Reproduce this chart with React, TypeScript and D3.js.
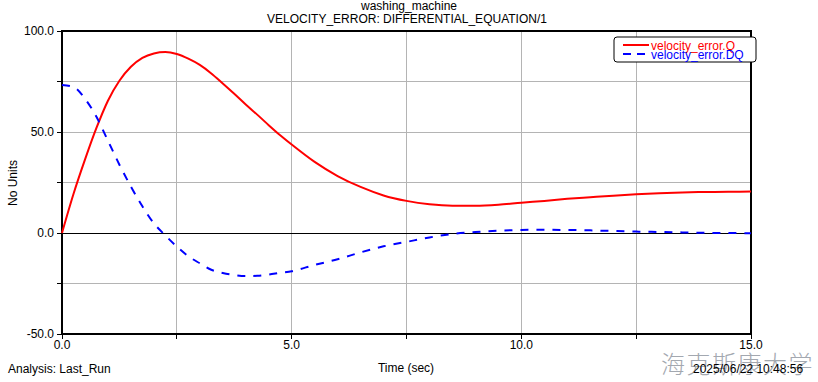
import React from "react";
import * as d3 from "d3";

const TIME = [
  0, 0.25, 0.5, 0.75, 1.0, 1.25, 1.5, 1.75, 2.0, 2.25, 2.5, 2.75, 3.0, 3.25, 3.5, 3.75, 4.0, 4.25, 4.5, 4.75, 5.0,
  5.5, 6.0, 6.5, 7.0, 7.5, 8.0, 8.5, 9.0, 9.5, 10.0, 10.5, 11.0, 11.5, 12.0, 12.5, 13.0, 13.5, 14.0, 14.5, 15.0,
];
const VEL_Q = [
  0, 19.3, 36.3, 52.0, 65.5, 75.4, 82.3, 86.7, 88.9, 89.6, 88.6, 86.3, 83.2, 79.0, 74.0, 68.9, 63.6, 58.6, 53.4, 48.4, 43.8,
  35.2, 28.2, 22.8, 18.6, 15.9, 14.2, 13.5, 13.5, 14.0, 15.0, 15.9, 16.9, 17.7, 18.5, 19.2, 19.7, 20.1, 20.3, 20.4, 20.5,
];
const VEL_DQ = [
  73.3, 72.3, 66.5, 57.5, 45.7, 33.8, 23.0, 13.2, 4.8, -1.2, -6.7, -11.5, -15.0, -18.2, -19.8, -20.8, -21.3, -21.2, -20.6, -19.7, -18.9,
  -15.8, -13.0, -9.6, -6.6, -4.4, -2.2, -0.5, 0.45, 1.1, 1.5, 1.6, 1.5, 1.3, 1.0, 0.7, 0.5, 0.3, 0.1, 0.0, -0.1,
];
const X_TICKS = [0, 2.5, 5, 7.5, 10, 12.5, 15];
const X_LABELS = [0, 5, 10, 15];
const Y_TICKS = [-50, -25, 0, 25, 50, 75, 100];
const Y_LABELS = [-50, 0, 50, 100];
const SERIES_NAMES = ["velocity_error.Q", "velocity_error.DQ"];
const TITLE = "washing_machine";
const SUBTITLE = "VELOCITY_ERROR: DIFFERENTIAL_EQUATION/1";

const W = 818;
const H = 382;
const L = 62, R = 751, T = 31, B = 334;
const FONT = "'Liberation Sans', Arial, Helvetica, sans-serif";
const FS = 12;

export default function App() {
  const x = d3.scaleLinear().domain([0, 15]).range([L, R]);
  const y = d3.scaleLinear().domain([-50, 100]).range([B, T]);
  const idx = TIME.map((_, i) => i);
  const lineQ = d3.line<number>().x(i => x(TIME[i])).y(i => y(VEL_Q[i])).curve(d3.curveMonotoneX);
  const lineDQ = d3.line<number>().x(i => x(TIME[i])).y(i => y(VEL_DQ[i])).curve(d3.curveMonotoneX);

  return (
    <svg width={W} height={H} style={{ position: "fixed", left: 0, top: 0, background: "#fff" }} fontFamily={FONT}>
      <rect x={0} y={0} width={W} height={H} fill="#fff" />
      <text x={409} y={10} fontSize={FS} textAnchor="middle" fill="#000">{TITLE}</text>
      <text x={407} y={23} fontSize={FS} textAnchor="middle" fill="#000">{SUBTITLE}</text>

      {/* grid */}
      {X_TICKS.filter(t => t > 0 && t < 15).map(t => (
        <line key={"gx" + t} x1={x(t)} x2={x(t)} y1={T} y2={B} stroke="#b4b4b4" strokeWidth={1} shapeRendering="crispEdges" />
      ))}
      {Y_TICKS.filter(v => v > -50 && v < 100 && v !== 0).map(v => (
        <line key={"gy" + v} x1={L} x2={R} y1={y(v)} y2={y(v)} stroke="#b4b4b4" strokeWidth={1} shapeRendering="crispEdges" />
      ))}
      <line x1={L} x2={R} y1={y(0)} y2={y(0)} stroke="#000" strokeWidth={1} shapeRendering="crispEdges" />

      {/* frame */}
      <rect x={L} y={T} width={R - L} height={B - T} fill="none" stroke="#000" strokeWidth={1.5} shapeRendering="crispEdges" />

      {/* ticks */}
      {Y_TICKS.map(v => (
        <line key={"ty" + v} x1={L - 5} x2={L} y1={y(v)} y2={y(v)} stroke="#000" strokeWidth={1} shapeRendering="crispEdges" />
      ))}
      {X_TICKS.map(t => (
        <line key={"tx" + t} x1={x(t)} x2={x(t)} y1={B} y2={B + 5} stroke="#000" strokeWidth={1} shapeRendering="crispEdges" />
      ))}
      {Y_LABELS.map(v => (
        <text key={"ly" + v} x={L - 8} y={y(v) + 4} fontSize={FS} textAnchor="end" fill="#000">{v.toFixed(1)}</text>
      ))}
      {X_LABELS.map(t => (
        <text key={"lx" + t} x={x(t)} y={349} fontSize={FS} textAnchor="middle" fill="#000">{t.toFixed(1)}</text>
      ))}
      <text transform={`translate(17,183) rotate(-90)`} fontSize={FS} textAnchor="middle" fill="#000">No Units</text>

      {/* curves */}
      <path d={lineQ(idx) || ""} fill="none" stroke="#ff0000" strokeWidth={2} />
      <path d={lineDQ(idx) || ""} fill="none" stroke="#0000ff" strokeWidth={2} strokeDasharray="8,8" />

      {/* legend */}
      <rect x={614} y={37} width={142} height={25} rx={3} fill="#fff" stroke="#000" strokeWidth={1} />
      <line x1={623} x2={649} y1={45} y2={45} stroke="#ff0000" strokeWidth={2} />
      <text x={651} y={49.5} fontSize={FS} fill="#ff0000">{SERIES_NAMES[0]}</text>
      <line x1={623} x2={649} y1={54} y2={54} stroke="#0000ff" strokeWidth={2} strokeDasharray="8,6" />
      <text x={651} y={58.5} fontSize={FS} fill="#0000ff">{SERIES_NAMES[1]}</text>

      {/* footer */}
      <text x={8} y={373} fontSize={FS} fill="#000">Analysis:  Last_Run</text>
      <text x={406} y={372} fontSize={FS} textAnchor="middle" fill="#000">Time (sec)</text>
      <text x={661} y={373} fontSize={24} fill="#a3a8b0" fontFamily="'Noto Sans CJK SC'" fontWeight={300} letterSpacing={1.5}>海克斯康大学</text>
      <text x={693} y={373} fontSize={FS} fill="#000">2025/06/22 10:48:56</text>
    </svg>
  );
}
